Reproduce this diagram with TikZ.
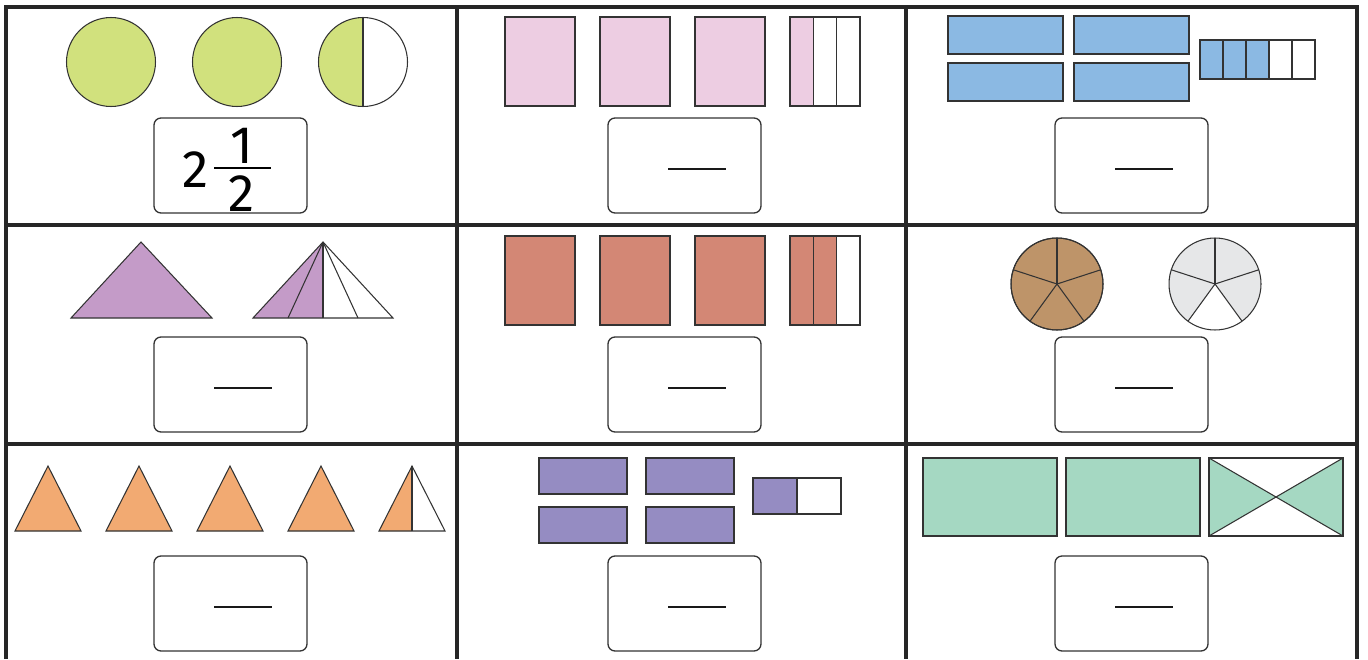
\documentclass[tikz,border=0pt]{standalone}
\usepackage{fontspec}
\usepackage{xcolor}
\usepackage{tikz}
\newfontfamily\handfont{Fira Sans}
\definecolor{circlegreen}{HTML}{D1E17D}
\definecolor{barpink}{HTML}{EDCDE2}
\definecolor{barblue}{HTML}{8BB9E3}
\definecolor{trililac}{HTML}{C49BC8}
\definecolor{barred}{HTML}{D38775}
\definecolor{piebrown}{HTML}{BE9469}
\definecolor{piegrey}{HTML}{E6E7E8}
\definecolor{triorange}{HTML}{F2AA72}
\definecolor{barviolet}{HTML}{958CC2}
\definecolor{barmint}{HTML}{A5D8C2}
\tikzset{
    gridline/.style={line width=1.9pt, draw=black!85},
    piece/.style={draw=black!80, line width=0.6pt},
    ansbox/.style={draw=black!80, line width=0.75pt, rounded corners=4pt},
    blankline/.style={line width=1.6pt, draw=black!90},
    digit/.style={font=\handfont\fontsize{30}{30}\selectfont, inner sep=0pt}
}

\begin{document}
\begin{tikzpicture}[x=0.02cm, y=-0.02cm]
    \useasboundingbox (0,0) rectangle (1368,659);
    % table
    \draw[gridline] (6,659) -- (6,7) -- (1357,7) -- (1357,659);
    \foreach \x in {457,906} \draw[gridline] (\x,7) -- (\x,659);
    \foreach \y in {225,444} \draw[gridline] (6,\y) -- (1357,\y);
    % answer boxes
    \foreach \x in {154,608,1055} {
        \foreach \y in {118,337,556} {
            \draw[ansbox] (\x,\y) rectangle +(153,95);
        }
    }
    \foreach \x/\y in {608/118,1055/118,154/337,608/337,1055/337,154/556,608/556,1055/556}
        \draw[blankline] (\x+60,\y+51) -- (\x+118,\y+51);
    \node[digit] (whole) at (196,170) {2};
    \node[digit] (numer) at (242,146) {1};
    \node[digit] (denom) at (242,194) {2};
    \draw[line width=1.2pt] (214,168) -- (271,168);
    % row 1: circles
    \foreach \x in {111,237} \draw[piece, fill=circlegreen] (\x,62) circle (0.89cm);
    \fill[circlegreen] (363,62) ++(90:0.89cm) arc[start angle=90, end angle=270, radius=0.89cm] -- cycle;
    \draw[piece] (363,62) circle (0.89cm);
    \draw[piece] (363,62) ++(90:0.89cm) -- ++(0,89);
    % row 1: pink bars
    \foreach \x in {505,600,695} \draw[piece, fill=barpink] (\x,17) rectangle +(70,89);
    \foreach \i/\f in {0/barpink,1/white,2/white}
        \draw[piece, fill=\f] (790+23.33*\i,17) rectangle +(23.33,89);
    % row 1: blue bars
    \foreach \x in {948,1074} {
        \foreach \y in {16,63} \draw[piece, fill=barblue] (\x,\y) rectangle +(115,38);
    }
    \foreach \i/\f in {0/barblue,1/barblue,2/barblue,3/white,4/white}
        \draw[piece, fill=\f] (1200+23*\i,40) rectangle +(23,39);
    % row 2: triangles
    \draw[piece, fill=trililac] (71,318) -- (141,242) -- (212,318) -- cycle;
    \fill[trililac] (253,318) -- (323,242) -- (323,318) -- cycle;
    \draw[piece] (253,318) -- (323,242) -- (393,318) -- cycle;
    \foreach \x in {288,323,358} \draw[piece] (323,242) -- (\x,318);
    % row 2: red bars
    \foreach \x in {505,600,695} \draw[piece, fill=barred] (\x,236) rectangle +(70,89);
    \foreach \i/\f in {0/barred,1/barred,2/white}
        \draw[piece, fill=\f] (790+23.33*\i,236) rectangle +(23.33,89);
    % row 2: pies
    \draw[piece, fill=piebrown] (1057,284) circle (0.92cm);
    \fill[piegrey] (1215,284) circle (0.92cm);
    \fill[white] (1215,284) -- +(-54:0.92cm) arc[start angle=-54, end angle=-126, radius=0.92cm] -- cycle;
    \foreach \x in {1057,1215} {
        \draw[piece] (\x,284) circle (0.92cm);
        \foreach \a in {90,18,-54,-126,162} \draw[piece] (\x,284) -- +(\a:0.92cm);
    }
    % row 3: orange triangles
    \foreach \x in {15,106,197,288}
        \draw[piece, fill=triorange] (\x,531) -- ++(33,-65) -- ++(33,65) -- cycle;
    \fill[triorange] (379,531) -- (412,466) -- (412,531) -- cycle;
    \draw[piece] (379,531) -- (412,466) -- (445,531) -- cycle;
    \draw[piece] (412,466) -- (412,531);
    % row 3: violet bars
    \foreach \x in {539,646} {
        \foreach \y in {458,507} \draw[piece, fill=barviolet] (\x,\y) rectangle +(88,36);
    }
    \draw[piece, fill=barviolet] (753,478) rectangle (797,514);
    \draw[piece] (797,478) rectangle (841,514);
    % row 3: mint bars
    \foreach \x in {923,1066} \draw[piece, fill=barmint] (\x,458) rectangle +(134,78);
    \fill[barmint] (1209,458) -- (1276,497) -- (1209,536) -- cycle;
    \fill[barmint] (1343,458) -- (1276,497) -- (1343,536) -- cycle;
    \draw[piece] (1209,458) rectangle (1343,536);
    \draw[piece] (1209,458) -- (1343,536);
    \draw[piece] (1209,536) -- (1343,458);
\end{tikzpicture}
\end{document}
